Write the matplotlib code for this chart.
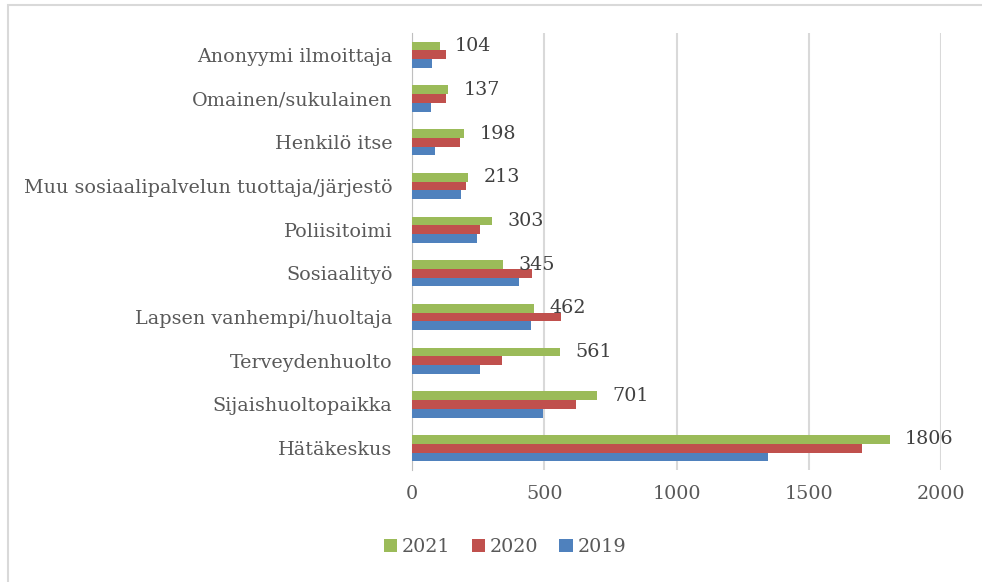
import matplotlib.pyplot as plt
import numpy as np
from matplotlib.patches import Rectangle

categories = ['Anonyymi ilmoittaja', 'Omainen/sukulainen', 'Henkilö itse',
              'Muu sosiaalipalvelun tuottaja/järjestö', 'Poliisitoimi',
              'Sosiaalityö', 'Lapsen vanhempi/huoltaja', 'Terveydenhuolto',
              'Sijaishuoltopaikka', 'Hätäkeskus']
v2021 = [104, 137, 198, 213, 303, 345, 462, 561, 701, 1806]
v2020 = [127, 128, 181, 203, 256, 454, 562, 341, 620, 1703]
v2019 = [77, 71, 88, 184, 245, 403, 450, 256, 496, 1345]

plt.rcParams['font.family'] = ['DejaVu Serif']
fs = 13.8

fig = plt.figure(figsize=(9.82, 5.82), dpi=100)
ax = fig.add_axes([412/982, 1-470/582, (941-412)/982, (470-33)/582])

y = np.arange(len(categories))
h = 0.2
ax.barh(y - h, v2021, height=h, color='#9BBB59', label='2021', zorder=3)
ax.barh(y, v2020, height=h, color='#C0504D', label='2020', zorder=3)
ax.barh(y + h, v2019, height=h, color='#4F81BD', label='2019', zorder=3)

# labels only for 2021
for yi, v in zip(y, v2021):
    ax.annotate(str(v), (v, yi - h), xytext=(11, 0), textcoords='offset points',
                va='center', ha='left', fontsize=fs, color='#404040')

ax.set_xlim(0, 2000)
ax.set_ylim(len(categories) - 0.5, -0.5)
ax.set_xticks([0, 500, 1000, 1500, 2000])
ax.set_yticks(y)
ax.set_yticklabels(categories)
ax.tick_params(axis='both', length=0, labelsize=fs, labelcolor='#595959')
ax.tick_params(axis='x', pad=11)
ax.tick_params(axis='y', pad=14)
ax.xaxis.grid(True, color='#D9D9D9', linewidth=1.5, zorder=0)

for s in ['top', 'right', 'bottom']:
    ax.spines[s].set_visible(False)
ax.spines['left'].set_color('#BFBFBF')

handles, labels = ax.get_legend_handles_labels()
fig.legend(handles, labels, loc='center', bbox_to_anchor=(505/982, 1-547/582),
           ncol=3, frameon=False, fontsize=fs, labelcolor='#595959',
           handlelength=0.7, handleheight=0.7, handletextpad=0.25, columnspacing=1.1)

# outer chart border
fig.patches.append(Rectangle((8/982, -0.1), 1.2, 1.1 - 5/582, transform=fig.transFigure,
                             fill=False, edgecolor='#D9D9D9', linewidth=1.5))

plt.savefig('out.png', dpi=100)
